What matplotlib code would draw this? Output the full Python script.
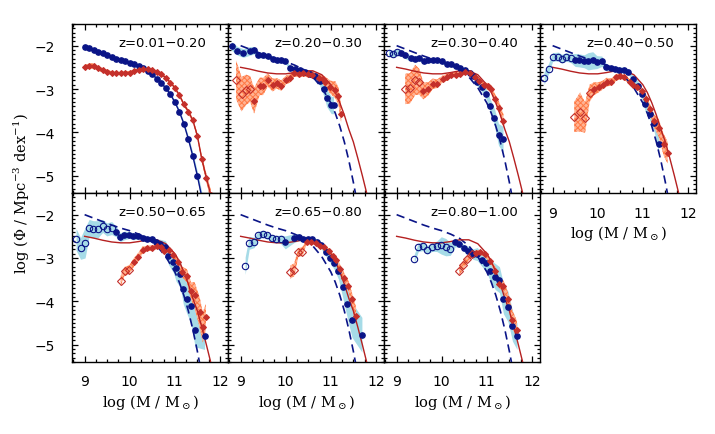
import numpy as np
import matplotlib
matplotlib.use("Agg")
import matplotlib.pyplot as plt
from matplotlib.ticker import MultipleLocator

plt.rcParams['mathtext.fontset'] = 'dejavuserif'
plt.rcParams['hatch.linewidth'] = 0.7

labels = ["z=0.01\u22120.20", "z=0.20\u22120.30", "z=0.30\u22120.40", "z=0.40\u22120.50",
          "z=0.50\u22120.65", "z=0.65\u22120.80", "z=0.80\u22121.00"]

# blue: first n entries of each panel are open (incomplete) points
blue_nopen = [0, 0, 3, 7, 9, 9, 9]
blue_m = [
    [9.0, 9.1, 9.2, 9.3, 9.4, 9.5, 9.6, 9.7, 9.8, 9.9, 10.0, 10.1, 10.2, 10.3, 10.4, 10.5, 10.6,
     10.7, 10.8, 10.9, 11.0, 11.1, 11.2, 11.3, 11.4, 11.5, 11.6],
    [8.80, 8.93, 9.06, 9.21, 9.30, 9.39, 9.50, 9.60, 9.71, 9.80, 9.90, 9.99, 10.10, 10.21, 10.32,
     10.43, 10.54, 10.65, 10.75, 10.84, 10.91, 11.01, 11.06],
    [8.82, 8.91, 9.00, 9.09, 9.19, 9.31, 9.41, 9.50, 9.61, 9.70, 9.80, 9.90, 10.00, 10.11, 10.21,
     10.31, 10.41, 10.52, 10.62, 10.70, 10.78, 10.89, 10.99, 11.08, 11.17, 11.26, 11.36],
    [8.81, 8.91, 9.00, 9.13, 9.20, 9.30, 9.40, 9.50, 9.59, 9.70, 9.79, 9.89, 9.98, 10.09, 10.19,
     10.29, 10.39, 10.48, 10.59, 10.68, 10.79, 10.90, 10.98, 11.05, 11.16, 11.25, 11.35],
    [8.81, 8.91, 9.01, 9.10, 9.19, 9.29, 9.40, 9.49, 9.60, 9.70, 9.79, 9.88, 9.99, 10.08, 10.19,
     10.30, 10.39, 10.49, 10.59, 10.68, 10.79, 10.86, 10.97, 11.03, 11.12, 11.19, 11.27, 11.36,
     11.45, 11.66],
    [9.10, 9.19, 9.30, 9.39, 9.49, 9.59, 9.69, 9.79, 9.89, 9.99, 10.19, 10.30, 10.39, 10.49, 10.59,
     10.69, 10.79, 10.89, 10.99, 11.08, 11.17, 11.28, 11.37, 11.47, 11.69],
    [9.39, 9.48, 9.58, 9.68, 9.78, 9.89, 9.99, 10.09, 10.19, 10.30, 10.39, 10.50, 10.59, 10.69,
     10.79, 10.89, 10.99, 11.08, 11.19, 11.28, 11.37, 11.47, 11.57, 11.67],
]
blue_phi = [
    [-2.02, -2.05, -2.10, -2.14, -2.18, -2.22, -2.26, -2.30, -2.33, -2.36, -2.39, -2.42, -2.46,
     -2.51, -2.58, -2.66, -2.76, -2.86, -2.98, -3.12, -3.30, -3.52, -3.80, -4.15, -4.55, -5.00, -5.50],
    [-2.01, -2.12, -2.17, -2.12, -2.11, -2.21, -2.22, -2.24, -2.30, -2.34, -2.34, -2.36, -2.52,
     -2.53, -2.56, -2.61, -2.65, -2.71, -2.81, -3.00, -3.21, -3.37, -3.37],
    [-2.16, -2.19, -2.15, -2.16, -2.22, -2.29, -2.30, -2.29, -2.36, -2.34, -2.34, -2.34, -2.36,
     -2.42, -2.43, -2.48, -2.51, -2.57, -2.63, -2.69, -2.84, -2.96, -3.12, -3.39, -3.66, -4.05, -4.16],
    [-2.75, -2.53, -2.26, -2.25, -2.30, -2.26, -2.29, -2.33, -2.34, -2.36, -2.36, -2.34, -2.38,
     -2.36, -2.50, -2.52, -2.53, -2.55, -2.56, -2.60, -2.77, -2.92, -3.12, -3.35, -3.58, -3.78, -4.26],
    [-2.57, -2.78, -2.65, -2.31, -2.34, -2.34, -2.26, -2.34, -2.31, -2.39, -2.52, -2.48, -2.47,
     -2.50, -2.50, -2.54, -2.56, -2.56, -2.64, -2.67, -2.75, -2.95, -3.09, -3.24, -3.37, -3.72,
     -3.94, -4.11, -4.65, -4.81],
    [-3.18, -2.65, -2.64, -2.48, -2.44, -2.48, -2.54, -2.56, -2.57, -2.64, -2.54, -2.52, -2.57,
     -2.57, -2.57, -2.62, -2.71, -2.86, -3.00, -3.12, -3.29, -3.68, -4.05, -4.43, -4.77],
    [-3.02, -2.75, -2.73, -2.81, -2.75, -2.73, -2.71, -2.75, -2.79, -2.64, -2.67, -2.78, -2.83,
     -2.91, -2.91, -3.04, -3.12, -3.29, -3.43, -3.50, -3.94, -4.12, -4.57, -4.81],
]
blue_err = [
    [0.04, 0.03, 0.03, 0.03, 0.03, 0.03, 0.03, 0.03, 0.03, 0.03, 0.03, 0.03, 0.03, 0.03, 0.03,
     0.03, 0.03, 0.03, 0.03, 0.04, 0.04, 0.05, 0.05, 0.06, 0.08, 0.10, 0.12],
    [0.10, 0.10, 0.10, 0.10, 0.08, 0.07, 0.06, 0.06, 0.06, 0.06, 0.05, 0.05, 0.05, 0.05, 0.05,
     0.05, 0.06, 0.08, 0.10, 0.15, 0.20, 0.20, 0.20],
    [0.08, 0.08, 0.08, 0.08, 0.08, 0.07, 0.06, 0.06, 0.06, 0.05, 0.05, 0.05, 0.05, 0.05, 0.05,
     0.05, 0.05, 0.05, 0.05, 0.06, 0.08, 0.10, 0.12, 0.15, 0.20, 0.25, 0.30],
    [0.15, 0.12, 0.10, 0.10, 0.10, 0.10, 0.10, 0.15, 0.15, 0.15, 0.20, 0.20, 0.15, 0.12, 0.08,
     0.06, 0.06, 0.06, 0.06, 0.06, 0.08, 0.10, 0.12, 0.15, 0.15, 0.20, 0.20],
    [0.25, 0.25, 0.35, 0.20, 0.20, 0.20, 0.15, 0.15, 0.15, 0.12, 0.10, 0.10, 0.08, 0.08, 0.06,
     0.06, 0.06, 0.06, 0.08, 0.10, 0.15, 0.20, 0.25, 0.30, 0.30, 0.35, 0.35, 0.40, 0.40, 0.30],
    [0.20, 0.15, 0.12, 0.10, 0.08, 0.08, 0.08, 0.08, 0.10, 0.15, 0.10, 0.08, 0.06, 0.06, 0.06,
     0.06, 0.08, 0.10, 0.12, 0.15, 0.20, 0.30, 0.35, 0.40, 0.40],
    [0.10, 0.10, 0.10, 0.10, 0.10, 0.12, 0.20, 0.20, 0.15, 0.10, 0.08, 0.08, 0.10, 0.12, 0.15,
     0.15, 0.20, 0.25, 0.30, 0.30, 0.35, 0.35, 0.35, 0.30],
]

red_nopen = [0, 4, 4, 4, 3, 4, 4]
red_m = [
    [9.0, 9.1, 9.2, 9.3, 9.4, 9.5, 9.6, 9.7, 9.8, 9.9, 10.0, 10.1, 10.2, 10.3, 10.4, 10.5, 10.6,
     10.7, 10.8, 10.9, 11.0, 11.1, 11.2, 11.3, 11.4, 11.5, 11.6, 11.7, 11.8],
    [8.90, 9.02, 9.12, 9.21, 9.30, 9.42, 9.50, 9.60, 9.71, 9.80, 9.90, 10.01, 10.10, 10.19, 10.30,
     10.39, 10.49, 10.59, 10.73, 10.82, 10.88, 10.99, 11.10, 11.17, 11.23],
    [9.19, 9.30, 9.41, 9.50, 9.59, 9.70, 9.80, 9.90, 10.02, 10.11, 10.21, 10.31, 10.41, 10.52,
     10.62, 10.73, 10.83, 10.93, 11.02, 11.10, 11.19, 11.28, 11.37],
    [9.48, 9.61, 9.72, 9.82, 9.91, 10.02, 10.11, 10.20, 10.30, 10.41, 10.50, 10.59, 10.71, 10.79,
     10.88, 10.98, 11.08, 11.16, 11.25, 11.35, 11.46, 11.55],
    [9.80, 9.89, 9.99, 10.10, 10.19, 10.29, 10.39, 10.49, 10.60, 10.69, 10.77, 10.88, 10.97,
     11.08, 11.16, 11.27, 11.36, 11.44, 11.55, 11.62, 11.69],
    [10.10, 10.19, 10.28, 10.37, 10.47, 10.56, 10.67, 10.76, 10.85, 10.95, 11.04, 11.12, 11.21,
     11.30, 11.39, 11.47, 11.56],
    [10.39, 10.48, 10.57, 10.67, 10.76, 10.85, 10.96, 11.08, 11.19, 11.28, 11.37, 11.47, 11.57, 11.67],
]
red_phi = [
    [-2.50, -2.47, -2.47, -2.52, -2.57, -2.60, -2.63, -2.64, -2.64, -2.63, -2.62, -2.58, -2.55,
     -2.54, -2.54, -2.56, -2.60, -2.66, -2.74, -2.85, -2.97, -3.14, -3.35, -3.52, -3.72, -4.08,
     -4.62, -5.05, -5.45],
    [-2.79, -3.12, -3.02, -3.00, -3.27, -2.94, -2.94, -2.79, -2.91, -2.87, -2.92, -2.79, -2.75,
     -2.63, -2.65, -2.63, -2.65, -2.67, -2.74, -2.78, -2.84, -2.96, -3.02, -3.16, -3.58],
    [-3.00, -2.98, -2.79, -2.83, -3.04, -3.00, -2.88, -2.88, -2.77, -2.73, -2.67, -2.67, -2.65,
     -2.60, -2.63, -2.73, -2.81, -2.91, -2.94, -3.00, -3.23, -3.43, -3.74],
    [-3.64, -3.53, -3.66, -3.10, -3.00, -2.96, -2.91, -2.84, -2.84, -2.73, -2.71, -2.73, -2.83,
     -2.91, -2.96, -3.04, -3.23, -3.47, -3.74, -3.89, -4.28, -4.47],
    [-3.53, -3.30, -3.27, -3.09, -2.98, -2.81, -2.78, -2.77, -2.73, -2.75, -2.83, -2.81, -2.93,
     -3.10, -3.32, -3.41, -3.76, -3.86, -4.25, -4.60, -4.36],
    [-3.33, -3.27, -2.87, -2.85, -2.62, -2.64, -2.65, -2.73, -2.75, -2.83, -2.95, -3.05, -3.26,
     -3.45, -3.64, -3.95, -4.33],
    [-3.29, -3.16, -3.02, -2.91, -2.88, -2.87, -2.91, -3.06, -3.29, -3.60, -3.64, -3.95, -4.42, -4.65],
]
red_err = [
    [0.05, 0.06, 0.06, 0.05, 0.05, 0.05, 0.04, 0.04, 0.04, 0.04, 0.03, 0.03, 0.03, 0.03, 0.03,
     0.03, 0.03, 0.03, 0.03, 0.03, 0.04, 0.04, 0.04, 0.05, 0.05, 0.06, 0.08, 0.10, 0.12],
    [0.45, 0.40, 0.35, 0.30, 0.30, 0.20, 0.20, 0.15, 0.15, 0.12, 0.12, 0.10, 0.10, 0.08, 0.08,
     0.08, 0.08, 0.08, 0.08, 0.10, 0.12, 0.15, 0.20, 0.20, 0.20],
    [0.35, 0.35, 0.35, 0.30, 0.20, 0.15, 0.12, 0.10, 0.08, 0.08, 0.06, 0.06, 0.06, 0.05, 0.05,
     0.05, 0.06, 0.06, 0.08, 0.08, 0.10, 0.12, 0.15],
    [0.35, 0.45, 0.35, 0.20, 0.15, 0.12, 0.10, 0.10, 0.08, 0.08, 0.06, 0.06, 0.06, 0.06, 0.06,
     0.08, 0.10, 0.12, 0.15, 0.20, 0.25, 0.25],
    [0.12, 0.10, 0.10, 0.10, 0.10, 0.08, 0.06, 0.06, 0.06, 0.06, 0.06, 0.06, 0.08, 0.10, 0.12,
     0.15, 0.20, 0.30, 0.35, 0.35, 0.30],
    [0.15, 0.15, 0.10, 0.10, 0.05, 0.05, 0.05, 0.05, 0.05, 0.06, 0.06, 0.08, 0.10, 0.10, 0.12,
     0.15, 0.20],
    [0.10, 0.10, 0.08, 0.08, 0.05, 0.05, 0.06, 0.06, 0.08, 0.10, 0.12, 0.15, 0.20, 0.20],
]

# local (z=0.01-0.20) fits repeated in the higher-z panels
fit_m = [9.0, 9.2, 9.4, 9.6, 9.8, 10.0, 10.2, 10.4, 10.6, 10.8, 11.0, 11.1, 11.2, 11.3, 11.4,
         11.5, 11.6, 11.7, 11.8, 11.9]
fit_blue = [-2.00, -2.08, -2.16, -2.24, -2.31, -2.37, -2.45, -2.55, -2.72, -2.97, -3.32, -3.56,
            -3.86, -4.22, -4.65, -5.15, -5.70, -6.30, -6.90, -7.50]
fit_red = [-2.50, -2.54, -2.59, -2.63, -2.65, -2.65, -2.62, -2.58, -2.58, -2.67, -2.90, -3.08,
           -3.32, -3.60, -3.93, -4.22, -4.60, -5.00, -5.42, -5.90]

navy = '#0a1487'
lblue = '#a6dbe7'
red = '#c4302b'
redline = '#b52020'
orange_face = '#ffb394'
orange_hatch = '#ff7a45'

fig = plt.figure(figsize=(7.15, 4.35), dpi=100)
W, H = 715, 435

for k in range(7):
    row, col = k // 4, k % 4
    left = 72 + 156 * col
    top = 25 + 169 * row
    ax = fig.add_axes([left / W, 1 - (top + 169) / H, 156 / W, 169 / H])

    bm, bp, be = np.array(blue_m[k]), np.array(blue_phi[k]), np.array(blue_err[k])
    rm, rp, re = np.array(red_m[k]), np.array(red_phi[k]), np.array(red_err[k])
    nb, nr = blue_nopen[k], red_nopen[k]

    ax.fill_between(bm, bp - be, bp + be, color=lblue, lw=0, zorder=1)
    ax.fill_between(rm, rp - re, rp + re, facecolor=orange_face, edgecolor=orange_hatch,
                    hatch='xxxxxx', lw=0, zorder=2)

    if k == 0:
        ax.plot(bm, bp, '-', color=navy, lw=1.0, zorder=3)
        ax.plot(rm, rp, '-', color=redline, lw=1.0, zorder=3)
    else:
        ax.plot(fit_m, fit_blue, color=navy, lw=1.2, dashes=(5, 3), zorder=3)
        ax.plot(fit_m, fit_red, '-', color=redline, lw=1.0, zorder=3)

    ax.plot(bm[nb:], bp[nb:], 'o', color=navy, ms=3.8, mec=navy, zorder=5)
    if nb:
        ax.plot(bm[:nb], bp[:nb], 'o', mfc='none', mec=navy, ms=4.6, mew=0.8, zorder=5)
    ax.plot(rm[nr:], rp[nr:], '+', color=red, ms=4.8, mew=0.8, zorder=4)
    ax.plot(rm[nr:], rp[nr:], 'D', color=red, ms=2.8, mec=red, zorder=5)
    if nr:
        ax.plot(rm[:nr], rp[:nr], 'D', mfc='none', mec=red, ms=3.8, mew=0.8, zorder=5)

    ax.text(0.58, 0.89, labels[k], transform=ax.transAxes, ha='center', va='center',
            fontsize=9.5, family='DejaVu Sans')

    ax.set_xlim(8.72, 12.18)
    ax.set_ylim(-5.4, -1.5)
    ax.xaxis.set_major_locator(MultipleLocator(1))
    ax.xaxis.set_minor_locator(MultipleLocator(0.25))
    ax.yaxis.set_major_locator(MultipleLocator(1))
    ax.yaxis.set_minor_locator(MultipleLocator(0.1))
    ax.tick_params(which='both', direction='in', top=True, right=True, width=0.9)
    ax.tick_params(which='major', length=4)
    ax.tick_params(which='minor', length=2)
    ax.tick_params(axis='x', pad=9, labelsize=10)
    ax.tick_params(axis='y', pad=12, labelsize=10)
    for s in ax.spines.values():
        s.set_linewidth(1.0)

    show_x = row == 1 or col == 3
    ax.tick_params(labelbottom=show_x, labelleft=(col == 0))
    if show_x:
        ax.text(0.5, -0.235, r"log (M / M$_\odot$)", transform=ax.transAxes,
                ha='center', va='center', fontsize=10.5, family='DejaVu Serif')

fig.text(22 / W, 1 - 194 / H, r"log ($\Phi$ / Mpc$^{-3}$ dex$^{-1}$)", rotation=90,
         ha='center', va='center', fontsize=10.5, family='DejaVu Serif')

fig.savefig("out.png", dpi=100)
